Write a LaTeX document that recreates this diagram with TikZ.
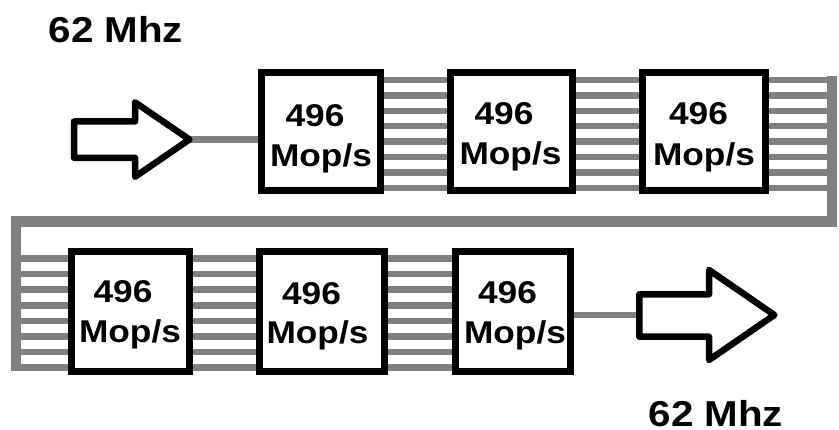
\documentclass[tikz,border=0pt]{standalone}
\usepackage{fontspec}
\setmainfont{Liberation Sans}[FakeStretch=1.12]
\usetikzlibrary{backgrounds}
\definecolor{busgray}{HTML}{808080}
\begin{document}
\begin{tikzpicture}[x=1pt,y=-1pt,
  box/.style={draw=black, line width=7pt, fill=white, inner sep=0pt, outer sep=0pt},
  bus/.style={draw=busgray, line width=6.5pt},
  bar/.style={draw=busgray, line width=10.5pt, line join=miter},
  bigarrow/.style={draw=black, fill=white, line width=6.5pt, line join=round},
  boxtxt/.style={font=\fontsize{31.5}{38}\selectfont\bfseries, inner sep=0pt, anchor=base},
  freqtxt/.style={font=\fontsize{36}{43}\selectfont\bfseries, inner sep=0pt, anchor=base west}]
\useasboundingbox (0,0) rectangle (839,430);

% boxes
\node[box, minimum width=119pt, minimum height=118.5pt] (b1) at (320.5,131.75) {};
\node[box, minimum width=122.3pt, minimum height=118.5pt] (b2) at (511.35,131.75) {};
\node[box, minimum width=122.4pt, minimum height=118.5pt] (b3) at (704,131.75) {};
\node[box, minimum width=117.4pt, minimum height=119.7pt] (b4) at (130.5,311.65) {};
\node[box, minimum width=124.7pt, minimum height=119.7pt] (b5) at (321.85,311.65) {};
\node[box, minimum width=114.8pt, minimum height=119.7pt] (b6) at (512.6,311.65) {};

% box texts
\node[boxtxt] (t1a) at (315,126.3) {496};
\node[boxtxt] (t1b) at (321,166.3) {Mop/s};
\node[boxtxt] (t2a) at (504,124.5) {496};
\node[boxtxt] (t2b) at (510.5,164.5) {Mop/s};
\node[boxtxt] (t3a) at (698.5,125) {496};
\node[boxtxt] (t3b) at (704,166) {Mop/s};
\node[boxtxt] (t4a) at (123,303) {496};
\node[boxtxt] (t4b) at (130,343) {Mop/s};
\node[boxtxt] (t5a) at (311.5,304.7) {496};
\node[boxtxt] (t5b) at (317.5,344) {Mop/s};
\node[boxtxt] (t6a) at (507.5,304) {496};
\node[boxtxt] (t6b) at (515,344) {Mop/s};

% frequency labels
\node[freqtxt] (fin) at (48.5,43) {62 Mhz};
\node[freqtxt] (fout) at (648.5,427) {62 Mhz};

% big arrows
\draw[bigarrow] (74,121.5) -- (135,121.5) -- (135,102.3) -- (189.4,139.5) -- (135,176.8) -- (135,157.8) -- (74,157.8) -- cycle;
\coordinate (intip) at (189.4,139.5);
\draw[bigarrow] (639.3,294.3) -- (709,294.3) -- (709,270) -- (774.4,315) -- (709,360) -- (709,336.7) -- (639.3,336.7) -- cycle;
\coordinate (outtail) at (639.3,315);

% bus routing corners
\coordinate (rtop) at (832,76);
\coordinate (rmid) at (832,221.5);
\coordinate (lmid) at (16,221.5);
\coordinate (lbot) at (16,371.5);

\begin{scope}[on background layer]
  \draw[bus] (intip) -- (b1.west |- intip);
  \draw[bus, line cap=round] (b6.east |- outtail) -- (outtail);
  \foreach \yy in {80,95.4,110.8,126.2,141.6,157,172.4,187.8}{
    \draw[bus] (b1.east |- 0,\yy) -- (b2.west |- 0,\yy);
    \draw[bus] (b2.east |- 0,\yy) -- (b3.west |- 0,\yy);
    \draw[bus] (b3.east |- 0,\yy) -- (rtop |- 0,\yy);
  }
  \foreach \yy in {258.5,274.1,289.7,305.3,320.9,336.5,352.1,367.7}{
    \draw[bus] (lbot |- 0,\yy) -- (b4.west |- 0,\yy);
    \draw[bus] (b4.east |- 0,\yy) -- (b5.west |- 0,\yy);
    \draw[bus] (b5.east |- 0,\yy) -- (b6.west |- 0,\yy);
  }
  \draw[bar] (rtop) -- (rmid) -- (lmid) -- (lbot);
\end{scope}
\end{tikzpicture}
\end{document}
